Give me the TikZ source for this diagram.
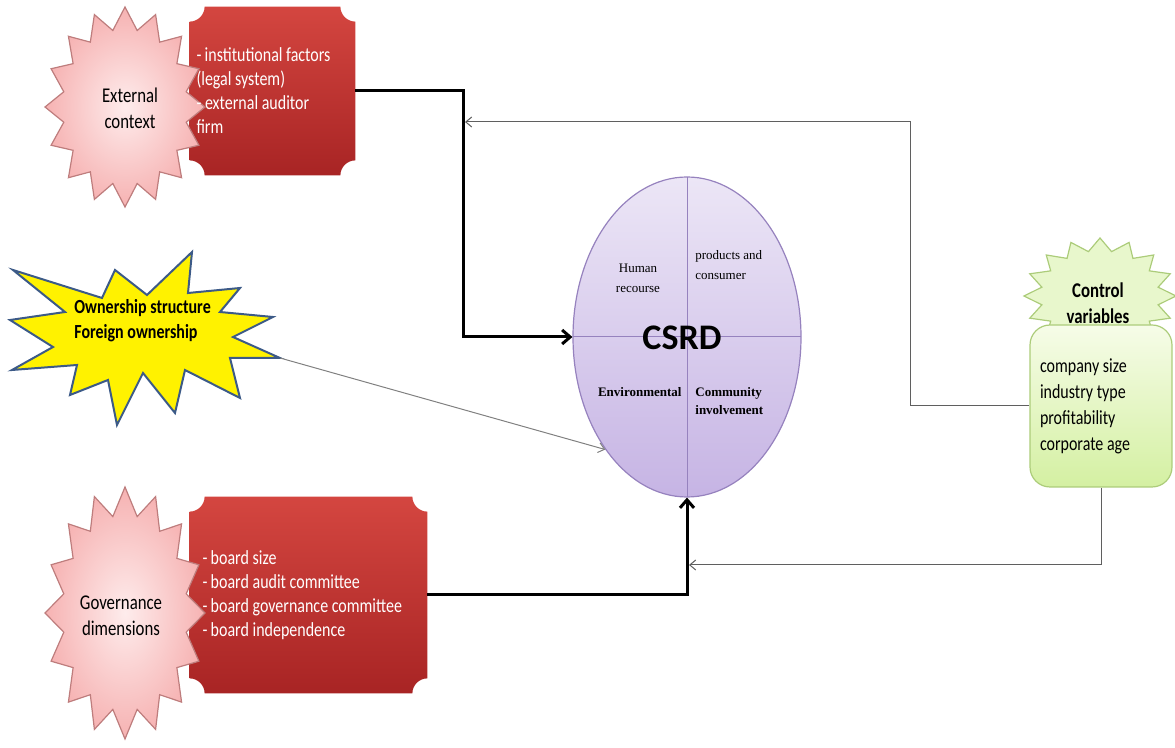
\documentclass[tikz,border=0pt]{standalone}
\usepackage{fontspec}
\setmainfont{Carlito}
\newfontfamily\narrowfont[FakeStretch=0.8]{Carlito}
\newfontfamily\ellfont{Liberation Serif}
\usepackage{tikz}
\usetikzlibrary{arrows.meta, positioning, calc, shapes.geometric, backgrounds}
\usepackage{xcolor}

\definecolor{redtop}{RGB}{212,70,64}
\definecolor{redbot}{RGB}{168,36,36}
\definecolor{pinkin}{RGB}{254,236,236}
\definecolor{pinkout}{RGB}{246,178,178}
\definecolor{pinkline}{RGB}{190,125,125}
\definecolor{burstline}{RGB}{60,90,135}
\definecolor{csrdtop}{RGB}{236,230,246}
\definecolor{csrdbot}{RGB}{198,180,228}
\definecolor{csrdline}{RGB}{150,130,190}
\definecolor{greentop}{RGB}{246,252,232}
\definecolor{greenbot}{RGB}{212,240,162}
\definecolor{greenline}{RGB}{172,204,122}
\definecolor{feedgrey}{RGB}{95,95,95}

\newcommand{\listfont}{\narrowfont\fontsize{10}{12}\selectfont}
\newcommand{\starfont}{\narrowfont\fontsize{10.5}{13}\selectfont}

\tikzset{
  redlist/.style={rectangle, inner sep=0pt, text=white, font=\listfont, align=flush left},
  redfill/.style={top color=redtop, bottom color=redbot},
  pinkstar/.style={draw=pinkline, line width=0.6pt, inner color=pinkin, outer color=pinkout},
  greenstar/.style={draw=greenline, line width=0.6pt, fill=greentop!60!greenbot},
  yellowburst/.style={draw=burstline, line width=1pt, fill=yellow},
  starlabel/.style={inner sep=0pt, align=flush center, text=black, font=\starfont},
  ownlabel/.style={inner sep=0pt, align=flush left, font=\narrowfont\bfseries\fontsize{10}{12.5}\selectfont},
  csrdshape/.style={ellipse, draw=csrdline, line width=0.6pt, top color=csrdtop, bottom color=csrdbot,
    minimum width=114pt, minimum height=160pt, inner sep=0pt,
    path picture={\draw[csrdline, line width=0.5pt]
      (path picture bounding box.north) -- (path picture bounding box.south)
      (path picture bounding box.west) -- (path picture bounding box.east);}},
  ellsoft/.style={inner sep=0pt, font=\ellfont\fontsize{6.5}{10}\selectfont},
  ellbold/.style={inner sep=0pt, font=\ellfont\bfseries\fontsize{6.5}{9}\selectfont},
  ctrllist/.style={rectangle, rounded corners=10pt, draw=greenline, line width=0.6pt,
    top color=greentop, bottom color=greenbot, minimum width=71pt, minimum height=81pt,
    text width=61pt, inner sep=0pt, align=flush left, font=\narrowfont\fontsize{10}{13}\selectfont},
  mainlink/.style={line width=1.5pt, -{Straight Barb[length=4pt, width=7pt]}},
  feedlink/.style={draw=feedgrey, line width=0.5pt, -{Straight Barb[length=3pt, width=5pt]}},
  ownlink/.style={draw=gray, line width=0.5pt, -{Straight Barb[length=3pt, width=5pt]}}
}

% plaque with concave corners round a node
\newcommand{\plaque}[1]{%
  \path[redfill] ([xshift=7.5pt]#1.north west) -- ([xshift=-7.5pt]#1.north east)
    arc[start angle=180, end angle=270, radius=7.5pt] -- ([yshift=7.5pt]#1.south east)
    arc[start angle=90, end angle=180, radius=7.5pt] -- ([xshift=7.5pt]#1.south west)
    arc[start angle=0, end angle=90, radius=7.5pt] -- ([yshift=-7.5pt]#1.north west)
    arc[start angle=270, end angle=360, radius=7.5pt] -- cycle;}

% 16-point star: style, centre x, centre y, x radius, y radius
\newcommand{\burst}[5]{%
  \path[#1] plot[samples at={0,...,31}]
    ({#2+#4*(1-0.22*mod(\x,2))*sin(\x*11.25)}, {#3-#5*(1-0.22*mod(\x,2))*cos(\x*11.25)}) -- cycle;}

\begin{document}
\begin{tikzpicture}[x=0.5pt, y=-0.5pt]
  \useasboundingbox (0,0) rectangle (1175,748);
  \hyphenpenalty=10000

  % left: the two red lists with their stars
  \node[redlist, minimum width=82.5pt, minimum height=84pt, text width=76pt] (extbox) at (272.5,91)
    {-\,institutional factors\\(legal system)\\- external auditor\\firm};
  \node[redlist, minimum width=118.5pt, minimum height=98pt, text width=106pt] (govbox) at (308.5,595)
    {-\,board size\\-\,board audit committee\\-\,board governance committee\\-\,board independence};
  \begin{pgfonlayer}{background}
    \plaque{extbox}
    \plaque{govbox}
    \burst{pinkstar}{125}{107}{80}{100}
    \burst{pinkstar}{125}{613}{80}{126}
  \end{pgfonlayer}
  \node[starlabel] (extstar) at (130,108) {External\\context};
  \node[starlabel] (govstar) at (121,616) {Governance\\dimensions};

  % ownership burst
  \filldraw[yellowburst] (13,270) -- (65,312) -- (10,320) -- (53,347) -- (12,370) -- (77,365)
    -- (70,395) -- (108,380) -- (117,425) -- (143,373) -- (175,413) -- (185,370) -- (240,398)
    -- (230,358) -- (280,358) -- (233,337) -- (273,317) -- (220,312) -- (240,288) -- (188,293)
    -- (192,252) -- (147,295) -- (115,270) -- (102,298) -- cycle;
  \coordinate (owntip) at (280,358);
  \node[ownlabel, anchor=west] (ownstar) at (74,321) {Ownership structure\\Foreign ownership};

  % CSRD
  \node[csrdshape] (csrd) at (687,337) {};
  \node[font=\bfseries\fontsize{18}{20}\selectfont, inner sep=0pt] (csrdtitle) at (682,338) {CSRD};
  \node[ellsoft, align=center] (human) at (638,278) {Human\\recourse};
  \node[ellsoft, anchor=west, align=left] (products) at (695,265) {products and\\consumer};
  \node[ellbold, anchor=east] (environ) at (682,392) {Environmental};
  \node[ellbold, anchor=west, align=left] (community) at (695,401) {Community\\involvement};

  % control variables
  \burst{greenstar}{1100}{296}{76}{58}
  \node[ctrllist] (ctrlbox) at (1101,406) {company size\\industry type\\profitability\\corporate age};
  \node[starlabel, font=\narrowfont\bfseries\fontsize{10.5}{13}\selectfont] (ctrlstar) at (1098,303) {Control\\variables};

  % links
  \coordinate (extbend) at (463,337);
  \coordinate (topjoin) at (465,122);
  \coordinate (ctrlbend) at (910,122);
  \coordinate (botjoin) at (689,565);
  \draw[mainlink] (extbox.east) -| (extbend) -- (csrd.west);
  \draw[mainlink] (govbox.east) -| (csrd.south);
  \draw[feedlink] (ctrlbox.west) -| (ctrlbend) -- (topjoin);
  \draw[feedlink] (ctrlbox.south) |- (botjoin);
  \draw[ownlink] (owntip) -- (csrd.234);
\end{tikzpicture}
\end{document}
